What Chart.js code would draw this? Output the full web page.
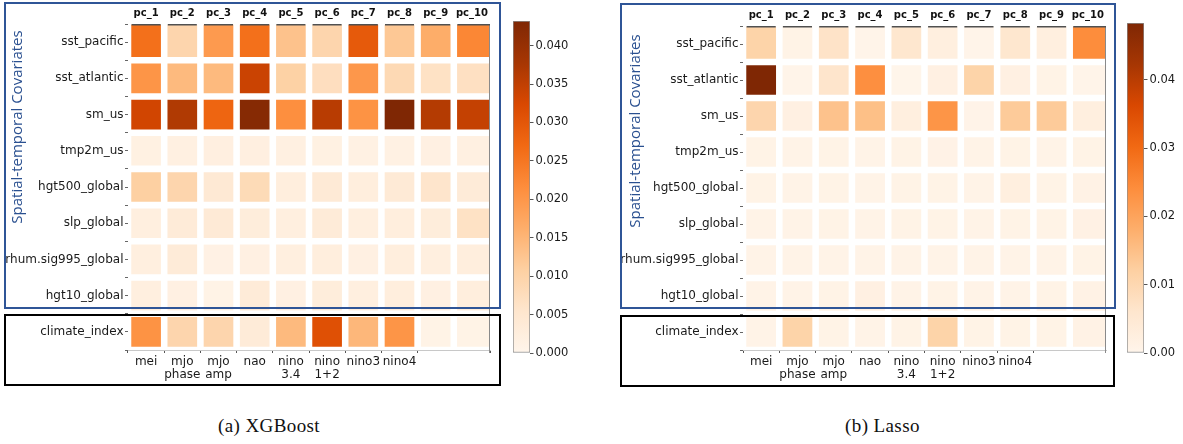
<!DOCTYPE html>
<html>
<head>
<meta charset="utf-8">
<script src="https://cdn.jsdelivr.net/npm/chart.js@4.4.1/dist/chart.umd.min.js"></script>
<style>
    body { margin: 0; background: #fff; width: 1183px; height: 444px; position: relative; overflow: hidden; }
    .cv { position: absolute; }
    .box { position: absolute; box-sizing: border-box; }
    .blue { border: 2px solid #2f5597; }
    .black { border: 2.5px solid #000; }
    .ytitle { position: absolute; width: 240px; height: 20px; line-height: 20px; text-align: center;
              color: #2a5090; font: 15px "Open Sans"; white-space: nowrap; transform: rotate(-90deg); }
    .caption { position: absolute; font: 19px "Liberation Serif"; line-height: 18px; letter-spacing: 0.4px; color: #111; white-space: nowrap; }
</style>
</head>
<body>
<div class="cv" style="left:0;top:0;width:500px;height:390px"><canvas id="heatXgb"></canvas></div>
<div class="cv" style="left:500px;top:0;width:100px;height:390px"><canvas id="barXgb"></canvas></div>
<div class="cv" style="left:615px;top:0;width:501px;height:390px"><canvas id="heatLasso"></canvas></div>
<div class="cv" style="left:1114px;top:0;width:69px;height:390px"><canvas id="barLasso"></canvas></div>

<div class="box blue" style="left:4px;top:2px;width:497px;height:307px"></div>
<div class="box black" style="left:4px;top:314px;width:497px;height:72px"></div>
<div class="box blue" style="left:620px;top:3px;width:496px;height:306px"></div>
<div class="box black" style="left:620px;top:315px;width:495px;height:72px"></div>

<div class="ytitle" style="left:-104px;top:117px">Spatial-temporal Covariates</div>
<div class="ytitle" style="left:514px;top:121px">Spatial-temporal Covariates</div>

<div class="caption" style="left:218px;top:417px">(a) XGBoost</div>
<div class="caption" style="left:845px;top:417px">(b) Lasso</div>

<script>
// columns / rows of the importance maps
const columns = ['pc_1', 'pc_2', 'pc_3', 'pc_4', 'pc_5', 'pc_6', 'pc_7', 'pc_8', 'pc_9', 'pc_10'];
const climateLabels = ['mei', ['mjo', 'phase'], ['mjo', 'amp'], 'nao', ['nino', '3.4'], ['nino', '1+2'], 'nino3', 'nino4', '', ''];
const rowNames = ['sst_pacific', 'sst_atlantic', 'sm_us', 'tmp2m_us', 'hgt500_global', 'slp_global',
    'rhum.sig995_global', 'hgt10_global', 'climate_index'];

// (a) XGBoost
const xgbSstPacific  = [0.0259, 0.0095, 0.0194, 0.0259, 0.0130, 0.0095, 0.0294, 0.0121, 0.0164, 0.0225];
const xgbSstAtlantic = [0.0203, 0.0143, 0.0143, 0.0340, 0.0104, 0.0073, 0.0199, 0.0086, 0.0065, 0.0069];
const xgbSmUs        = [0.0333, 0.0367, 0.0276, 0.0423, 0.0212, 0.0359, 0.0207, 0.0432, 0.0363, 0.0346];
const xgbTmp2mUs     = [0.0016, 0.0019, 0.0020, 0.0021, 0.0018, 0.0016, 0.0015, 0.0015, 0.0017, 0.0018];
const xgbHgt500      = [0.0108, 0.0095, 0.0043, 0.0082, 0.0026, 0.0039, 0.0026, 0.0039, 0.0056, 0.0035];
const xgbSlp         = [0.0022, 0.0035, 0.0039, 0.0030, 0.0022, 0.0035, 0.0022, 0.0026, 0.0030, 0.0065];
const xgbRhum        = [0.0022, 0.0035, 0.0013, 0.0017, 0.0022, 0.0026, 0.0017, 0.0026, 0.0022, 0.0026];
const xgbHgt10       = [0.0022, 0.0017, 0.0009, 0.0035, 0.0017, 0.0030, 0.0022, 0.0026, 0.0017, 0.0026];
const xgbClimate     = [0.0207, 0.0095, 0.0095, 0.0035, 0.0143, 0.0311, 0.0147, 0.0203, 0.0009, 0.0009];

// (b) Lasso
const lassoSstPacific  = [0.0111, 0.0010, 0.0068, 0.0005, 0.0058, 0.0024, 0.0005, 0.0058, 0.0024, 0.0242];
const lassoSstAtlantic = [0.0483, 0.0005, 0.0063, 0.0237, 0.0002, 0.0019, 0.0111, 0.0019, 0.0010, 0.0005];
const lassoSmUs        = [0.0106, 0.0019, 0.0145, 0.0150, 0.0024, 0.0227, 0.0007, 0.0130, 0.0130, 0.0024];
const lassoTmp2mUs     = [0.0010, 0.0008, 0.0010, 0.0009, 0.0010, 0.0011, 0.0009, 0.0010, 0.0009, 0.0010];
const lassoHgt500      = [0.0010, 0.0008, 0.0010, 0.0009, 0.0010, 0.0010, 0.0009, 0.0024, 0.0010, 0.0012];
const lassoSlp         = [0.0008, 0.0009, 0.0010, 0.0009, 0.0010, 0.0010, 0.0009, 0.0010, 0.0010, 0.0015];
const lassoRhum        = [0.0008, 0.0008, 0.0008, 0.0008, 0.0008, 0.0008, 0.0008, 0.0008, 0.0009, 0.0010];
const lassoHgt10       = [0.0009, 0.0009, 0.0010, 0.0019, 0.0009, 0.0010, 0.0009, 0.0009, 0.0010, 0.0012];
const lassoClimate     = [0.0009, 0.0111, 0.0010, 0.0009, 0.0010, 0.0111, 0.0010, 0.0010, 0.0010, 0.0012];

const xgbRows = [xgbSstPacific, xgbSstAtlantic, xgbSmUs, xgbTmp2mUs, xgbHgt500, xgbSlp, xgbRhum, xgbHgt10, xgbClimate];
const lassoRows = [lassoSstPacific, lassoSstAtlantic, lassoSmUs, lassoTmp2mUs, lassoHgt500, lassoSlp, lassoRhum, lassoHgt10, lassoClimate];

// matplotlib "Oranges"
const orangeStops = ['#fff5eb', '#fee6ce', '#fdd0a2', '#fdae6b', '#fd8d3c', '#f16913', '#d94801', '#a63603', '#7f2704'];

const hexToRgb = h => [1, 3, 5].map(i => parseInt(h.substr(i, 2), 16));

function oranges(t) {
    t = Math.min(1, Math.max(0, t)) * (orangeStops.length - 1);
    const i = Math.min(orangeStops.length - 2, Math.floor(t));
    const f = t - i;
    const a = hexToRgb(orangeStops[i]);
    const b = hexToRgb(orangeStops[i + 1]);
    const c = a.map((v, k) => Math.round(v + (b[k] - v) * f));
    return `rgb(${c[0]}, ${c[1]}, ${c[2]})`;
}

const textColor = '#1a1a1a';
const gap = 3.6;

// spines that matplotlib leaves around the heatmap
const spines = {
    id: 'spines',
    afterDatasetsDraw(chart) {
        const { ctx, chartArea: a, scales: { x } } = chart;
        ctx.save();
        ctx.strokeStyle = '#8a8a8a';
        ctx.lineWidth = 1;
        ctx.beginPath();
        ctx.moveTo(a.right - 0.5, a.top);
        ctx.lineTo(a.right - 0.5, a.bottom + 3);
        ctx.stroke();

        ctx.strokeStyle = '#505050';
        ctx.lineWidth = 1.5;
        const half = (x.getPixelForValue(1) - x.getPixelForValue(0)) / 2;
        columns.forEach((c, i) => {
            const px = x.getPixelForValue(i);
            ctx.beginPath();
            ctx.moveTo(px - half + gap, a.top + 0.75);
            ctx.lineTo(i === columns.length - 1 ? a.right : px + half - gap, a.top + 0.75);
            ctx.stroke();
        });
        ctx.restore();
    }
};

function heatmap(id, rows, topHeight) {
    const vmax = Math.max(...rows.flat());
    const datasets = rows.map((vals, r) => ({
        label: rowNames[r],
        data: vals.map(() => [r, r + 1]),
        backgroundColor: vals.map(v => oranges(v / vmax)),
        borderColor: '#ffffff',
        borderWidth: ctx => ({
            top: r === 0 ? 0 : gap,
            bottom: gap,
            left: gap,
            right: ctx.dataIndex === columns.length - 1 ? 0 : gap
        }),
        borderSkipped: false,
        barPercentage: 1,
        categoryPercentage: 1,
        grouped: false
    }));

    return new Chart(document.getElementById(id), {
        type: 'bar',
        data: { labels: columns, datasets: datasets },
        options: {
            responsive: true,
            maintainAspectRatio: false,
            animation: false,
            layout: { padding: { right: 10 } },
            plugins: { legend: { display: false }, tooltip: { enabled: false } },
            scales: {
                x: {
                    type: 'category',
                    position: 'top',
                    offset: true,
                    grid: { display: false, drawTicks: false },
                    border: { display: false },
                    ticks: {
                        font: { family: 'DejaVu Sans', size: 10, weight: 'bold' },
                        color: '#111',
                        padding: 5,
                        maxRotation: 0,
                        autoSkip: false
                    },
                    afterFit: s => { s.height = topHeight; }
                },
                x2: {
                    type: 'category',
                    labels: climateLabels,
                    position: 'bottom',
                    offset: true,
                    grid: {
                        offset: true,
                        drawOnChartArea: false,
                        tickLength: 3,
                        tickColor: ctx => ctx.index === 9 ? 'rgba(0,0,0,0)' : '#555'
                    },
                    border: { display: true, color: '#c8c8c8' },
                    ticks: {
                        font: { family: 'DejaVu Sans', size: 12, lineHeight: 1.1 },
                        color: textColor,
                        padding: 2,
                        maxRotation: 0,
                        autoSkip: false
                    },
                    afterFit: s => { s.height = 40; }
                },
                y: {
                    type: 'linear',
                    min: 0,
                    max: rowNames.length,
                    reverse: true,
                    afterBuildTicks: s => {
                        const t = [];
                        for (let v = 0; v <= rowNames.length; v += 0.5) t.push({ value: v });
                        s.ticks = t;
                    },
                    grid: { drawOnChartArea: false, tickLength: 3, color: '#666' },
                    border: { display: false },
                    ticks: {
                        autoSkip: false,
                        padding: 1.5,
                        font: { family: 'DejaVu Sans', size: 12 },
                        color: textColor,
                        callback: v => (v % 1 === 0.5 ? rowNames[Math.floor(v)] : '')
                    },
                    afterFit: s => { s.width = 128; }
                }
            }
        },
        plugins: [spines]
    });
}

function colorbar(id, rows, step, digits, top, axisWidth) {
    const vmax = Math.max(...rows.flat());
    return new Chart(document.getElementById(id), {
        type: 'bar',
        data: {
            labels: [''],
            datasets: [{
                data: [[0, vmax]],
                backgroundColor: ctx => {
                    const a = ctx.chart.chartArea;
                    if (!a) return null;
                    const g = ctx.chart.ctx.createLinearGradient(0, a.bottom, 0, a.top);
                    orangeStops.forEach((c, i) => g.addColorStop(i / (orangeStops.length - 1), c));
                    return g;
                },
                borderColor: '#8c8c8c',
                borderWidth: 1,
                borderSkipped: false,
                barPercentage: 1,
                categoryPercentage: 1
            }]
        },
        options: {
            responsive: true,
            maintainAspectRatio: false,
            animation: false,
            layout: { padding: { left: 13, top: top, bottom: 37, right: 0 } },
            plugins: { legend: { display: false }, tooltip: { enabled: false } },
            scales: {
                x: { display: false },
                y: {
                    position: 'right',
                    min: 0,
                    max: vmax,
                    grid: { drawOnChartArea: false, tickLength: 3.5, color: '#555' },
                    border: { display: false },
                    ticks: {
                        stepSize: step,
                        includeBounds: false,
                        padding: 2,
                        font: { family: 'DejaVu Sans', size: 11.5 },
                        color: textColor,
                        callback: v => v.toFixed(digits)
                    },
                    afterFit: s => { s.width = axisWidth; }
                }
            }
        }
    });
}

heatmap('heatXgb', xgbRows, 24);
heatmap('heatLasso', lassoRows, 26);
colorbar('barXgb', xgbRows, 0.005, 3, 21, 70);
colorbar('barLasso', lassoRows, 0.01, 2, 23, 39);
</script>
</body>
</html>
